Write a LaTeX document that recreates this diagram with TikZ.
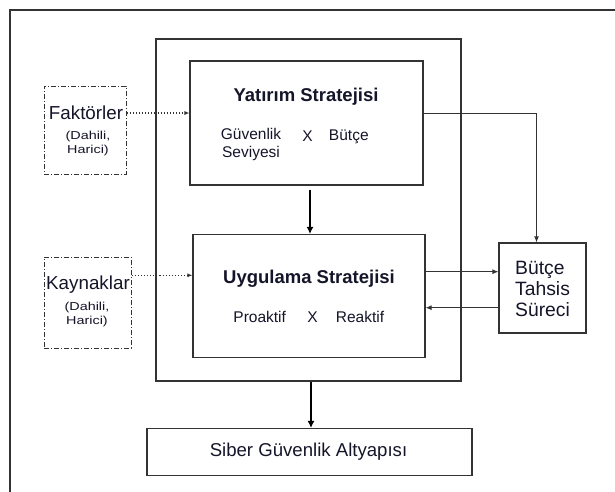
\documentclass[tikz,border=0pt]{standalone}
\usepackage{fontspec}
\setmainfont{Liberation Sans}
\newfontfamily\smallwide[FakeStretch=1.25]{Liberation Sans}
\usetikzlibrary{arrows.meta,calc}
\definecolor{ln}{HTML}{333333}
\definecolor{tx}{HTML}{15152A}
\tikzset{
  box/.style={draw=ln, line width=1.1pt, inner sep=0pt},
  dbox/.style={draw=ln, line width=1pt, dash pattern=on 5pt off 2pt on 1pt off 2pt, inner sep=0pt},
  lbl/.style={text=tx, inner sep=0pt, font=\fontsize{15.5}{18}\selectfont},
  ttl/.style={text=tx, inner sep=0pt, font=\fontsize{18.5}{21}\selectfont\bfseries},
  big/.style={text=tx, inner sep=0pt, font=\fontsize{18.8}{21}\selectfont},
  sm/.style={text=tx, inner sep=0pt, align=center, font=\fontsize{11.5}{13.5}\selectfont\smallwide},
  arr/.style={draw=ln, line width=1.1pt, -{Latex[length=6pt,width=5pt]}},
  darr/.style={draw=ln, line width=1.1pt, dotted, -{Latex[length=5pt,width=4pt]}},
  tarr/.style={draw=black, line width=2.4pt, -{Latex[length=7pt,width=7pt]}}
}
\begin{document}
\begin{tikzpicture}[x=1pt,y=-1pt]
\useasboundingbox (0,0) rectangle (615,491);
\fill[white] (0,0) rectangle (615,491);
% outer frame
\draw[draw=ln, line width=1.4pt] (10,495) -- (10,10) -- (620,10);
% boxes
\node[box, minimum width=305pt, minimum height=342pt] (cont) at (308.5,210) {};
\node[box, fill=white, minimum width=233pt, minimum height=124pt] (yat) at (306.5,123) {};
\node[box, fill=white, minimum width=232pt, minimum height=123pt] (uyg) at (309,296) {};
\node[dbox, minimum width=82pt, minimum height=88pt] (fak) at (85,130) {};
\node[dbox, minimum width=87pt, minimum height=91pt] (kay) at (87.5,302.5) {};
\node[box, minimum width=87pt, minimum height=90pt] (but) at (542.5,288) {};
\node[box, minimum width=325pt, minimum height=47pt] (sib) at (309.5,452) {};
% texts
\node[big] (fakt) at (86,113) {Faktörler};
\node[sm] (fakd) at (88,143.5) {(Dahili,\\Harici)};
\node[big] (kayt) at (88,285) {Kaynaklar};
\node[sm] (kayd) at (87,314.5) {(Dahili,\\Harici)};
\node[ttl] (yatt) at (306,97) {Yatırım Stratejisi};
\node[lbl, align=center] (guv) at (251,144.5) {Güvenlik\\Seviyesi};
\node[lbl] (x1) at (307.5,136.5) {X};
\node[lbl] (bt1) at (348.8,136.5) {Bütçe};
\node[ttl] (uygt) at (309,279) {Uygulama Stratejisi};
\node[lbl] (pro) at (259.7,317) {Proaktif};
\node[lbl] (x2) at (312.5,317) {X};
\node[lbl] (rea) at (360,317) {Reaktif};
\node[big, align=left, anchor=west, font=\fontsize{19.3}{21}\selectfont] (butt) at (515,288.5) {Bütçe\\Tahsis\\Süreci};
\node[big, font=\fontsize{18.6}{21}\selectfont] (sibt) at (308.5,451.5) {Siber Güvenlik Altyapısı};
% helper coordinates
\coordinate (ka) at (0,275.3);
\coordinate (bx) at (536.5,113.3);
\coordinate (u1) at (0,271.7);
\coordinate (u2) at (0,307.7);
\coordinate (ax) at (310,0);
\coordinate (sx) at (311,0);
% connectors
\draw[darr] (fakt.east -| fak.east) -- (fakt.east -| yat.west);
\draw[darr] (ka -| kay.east) -- (ka -| uyg.west);
\draw[tarr] ($(ax |- yat.south)+(0,4)$) -- (ax |- uyg.north);
\draw[arr] (bx -| yat.east) -- (bx) -- (bx |- but.north);
\draw[arr] (u1 -| uyg.east) -- (u1 -| but.west);
\draw[arr] (u2 -| but.west) -- (u2 -| uyg.east);
\draw[tarr] (sx |- cont.south) -- (sx |- sib.north);
\end{tikzpicture}
\end{document}
